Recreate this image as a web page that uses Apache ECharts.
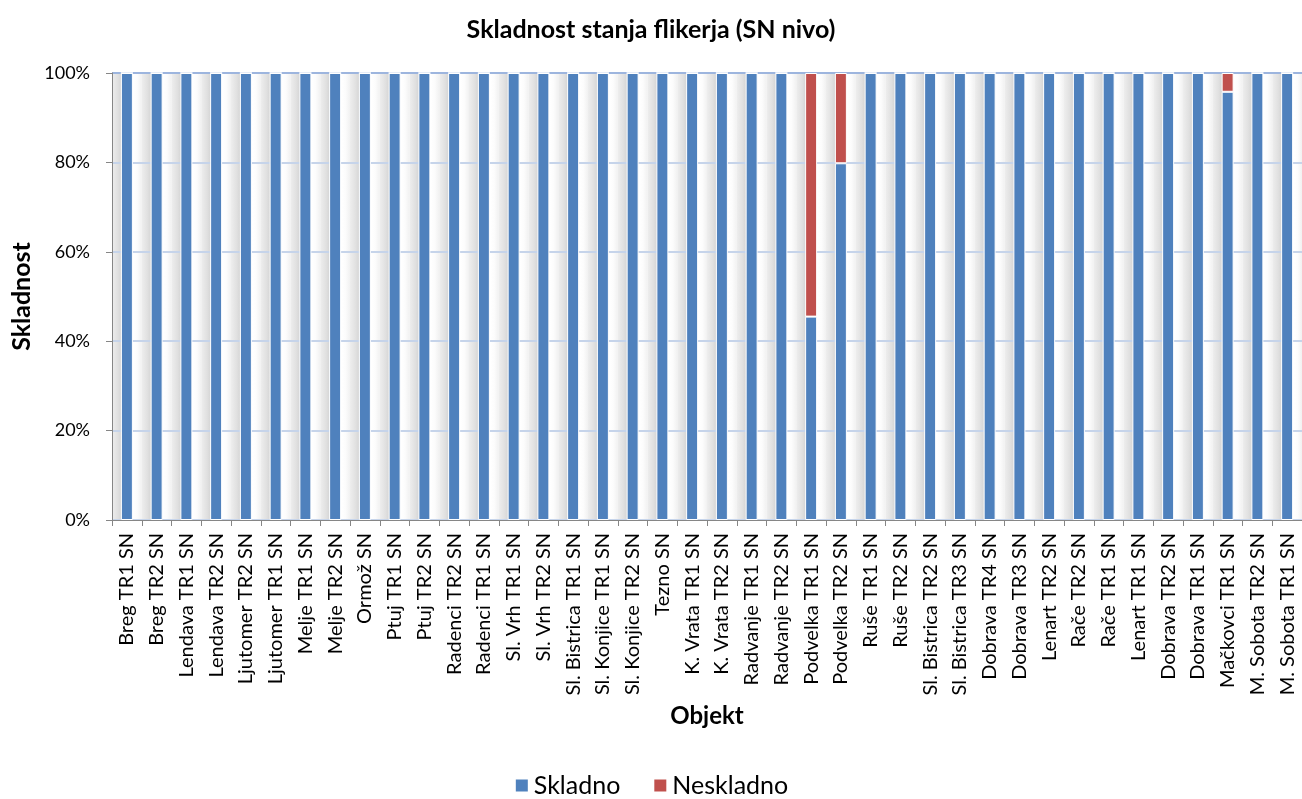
<!DOCTYPE html>
<html>
<head>
<meta charset="utf-8">
<script src="https://cdn.jsdelivr.net/npm/echarts@6/dist/echarts.min.js"></script>
<style>
html,body{margin:0;padding:0;background:#fff;}
#main{width:1302px;height:799px;}
</style>
</head>
<body>
<div id="main"></div>
<script>
const categories = ["Breg TR1 SN","Breg TR2 SN","Lendava TR1 SN","Lendava TR2 SN","Ljutomer TR2 SN","Ljutomer TR1 SN","Melje TR1 SN","Melje TR2 SN","Ormož SN","Ptuj TR1 SN","Ptuj TR2 SN","Radenci TR2 SN","Radenci TR1 SN","Sl. Vrh TR1 SN","Sl. Vrh TR2 SN","Sl. Bistrica TR1 SN","Sl. Konjice TR1 SN","Sl. Konjice TR2 SN","Tezno SN","K. Vrata TR1 SN","K. Vrata TR2 SN","Radvanje TR1 SN","Radvanje TR2 SN","Podvelka TR1 SN","Podvelka TR2 SN","Ruše TR1 SN","Ruše TR2 SN","Sl. Bistrica TR2 SN","Sl. Bistrica TR3 SN","Dobrava TR4 SN","Dobrava TR3 SN","Lenart TR2 SN","Rače TR2 SN","Rače TR1 SN","Lenart TR1 SN","Dobrava TR2 SN","Dobrava TR1 SN","Mačkovci TR1 SN","M. Sobota TR2 SN","M. Sobota TR1 SN"];
const skladno = [100,100,100,100,100,100,100,100,100,100,100,100,100,100,100,100,100,100,100,100,100,100,100,45.5,79.8,100,100,100,100,100,100,100,100,100,100,100,100,95.8,100,100];
const neskladno = [0,0,0,0,0,0,0,0,0,0,0,0,0,0,0,0,0,0,0,0,0,0,0,54.5,20.2,0,0,0,0,0,0,0,0,0,0,0,0,4.2,0,0];
const yTicks = [0,20,40,60,80,100];
const seriesNames = ["Skladno","Neskladno"];

const FONT = 'Lato, "Open Sans", sans-serif';
const chart = echarts.init(document.getElementById('main'), null, {renderer:'canvas'});
const bgData = categories.map(() => yTicks[yTicks.length-1]);

const option = {
  backgroundColor: '#fff',
  animation: false,
  textStyle: {fontFamily: FONT, color: '#000'},
  title: {
    text: 'Skladnost stanja flikerja (SN nivo)',
    left: 'center', top: 12,
    textStyle: {fontFamily: FONT, fontSize: 25, fontWeight: 'bold', color: '#000'}
  },
  legend: {
    data: seriesNames,
    bottom: -4, left: 'center',
    icon: 'rect', itemWidth: 14, itemHeight: 14, itemGap: 32,
    textStyle: {fontFamily: FONT, fontSize: 25, color: '#000'}
  },
  grid: {left: 112, right: -10, top: 73, bottom: 279, containLabel: false},
  xAxis: [{
    type: 'category', data: categories, z: 3,
    name: 'Objekt', nameLocation: 'middle', nameGap: 184, nameMoveOverlap: false,
    nameTextStyle: {fontFamily: FONT, fontSize: 24, fontWeight: 'bold', color: '#000'},
    axisLine: {show: true, lineStyle: {color: '#868686', width: 1}},
    axisTick: {show: true, length: 6, lineStyle: {color: '#868686'}},
    axisLabel: {interval: 0, rotate: 90, margin: 13, fontSize: 20, color: '#000', fontFamily: FONT},
    splitLine: {show: false}
  }, {
    type: 'category', data: categories, show: false, gridIndex: 0
  }],
  yAxis: {
    type: 'value', min: 0, max: 100, interval: 20, z: 1,
    name: 'Skladnost', nameLocation: 'middle', nameGap: 78, nameRotate: 90, nameMoveOverlap: false,
    nameTextStyle: {fontFamily: FONT, fontSize: 25, fontWeight: 'bold', color: '#000'},
    axisLine: {show: true, lineStyle: {color: '#868686', width: 1}},
    axisTick: {show: true, length: 6, lineStyle: {color: '#868686'}},
    axisLabel: {formatter: '{value}%', fontSize: 18, color: '#000', margin: 22, fontFamily: FONT},
    splitLine: {show: true, lineStyle: {color: ['#c6d4ea','#c6d4ea','#c6d4ea','#c6d4ea','#c6d4ea','#9db5de'], width: 2}}
  },
  series: [{
    name: 'bg', type: 'bar', xAxisIndex: 1, data: bgData, barWidth: '100%', z: 0,
    silent: true, legendHoverLink: false,
    itemStyle: {color: new echarts.graphic.LinearGradient(0,0,1,0,[
      {offset: 0, color: '#eeeeee'},
      {offset: 0.2, color: '#e0e0e0'},
      {offset: 0.3, color: '#d6d6d6'},
      {offset: 0.32, color: '#ffffff'},
      {offset: 0.72, color: '#ffffff'},
      {offset: 0.85, color: '#fcfcfc'},
      {offset: 1, color: '#f1f1f1'}
    ])}
  }, {
    name: seriesNames[0], type: 'bar', stack: 'a', data: skladno, barWidth: 12, z: 2,
    itemStyle: {color: '#4f81bd', borderColor: '#ffffff', borderWidth: 1}
  }, {
    name: seriesNames[1], type: 'bar', stack: 'a', data: neskladno, barWidth: 12, z: 2,
    itemStyle: {color: '#c0504d', borderColor: '#ffffff', borderWidth: 1}
  }]
};
chart.setOption(option);
</script>
</body>
</html>
